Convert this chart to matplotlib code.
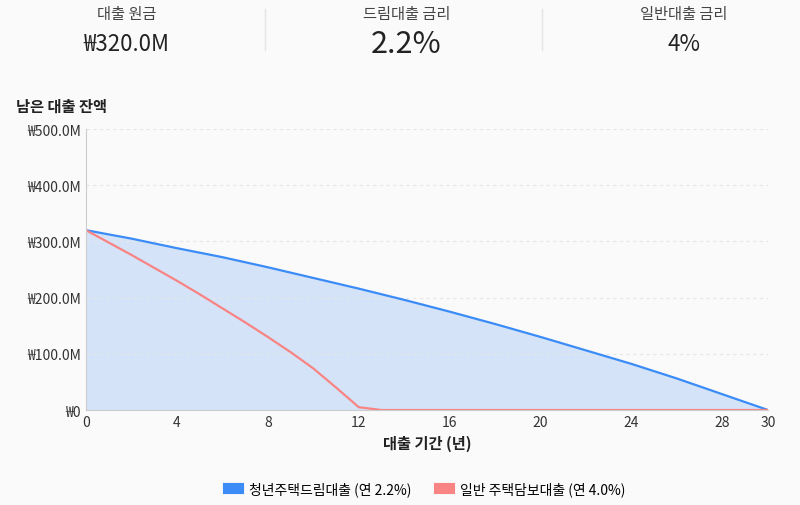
import matplotlib.pyplot as plt
from matplotlib.ticker import FuncFormatter

plt.rcParams['font.family'] = ['Noto Sans CJK KR', 'DejaVu Sans']

years_dream = [0, 2, 4, 6, 8, 10, 12, 14, 16, 18, 20, 22, 24, 26, 28, 30]
bal_dream = [320, 305, 288, 272, 254, 235, 216, 196, 175, 153, 130, 106, 82, 56, 28, 0]
years_normal = [0, 1, 2, 3, 4, 5, 6, 7, 8, 9, 10, 11, 12, 13, 20, 30]
bal_normal = [320, 298, 276, 253, 230, 206, 181, 156, 130, 103, 74, 40, 5, 0, 0, 0]

bg = '#fafafa'
blue = '#3b8cf7'
red = '#f88484'

fig = plt.figure(figsize=(8, 5.06), dpi=100, facecolor=bg)

# header stats
for x, lab, val, size in [(0.158, '대출 원금', '₩320.0M', 16), (0.508, '드림대출 금리', '2.2%', 22), (0.855, '일반대출 금리', '4%', 16)]:
    fig.text(x, 0.972, lab, ha='center', va='center', fontsize=11, color='#444444')
    fig.text(x, 0.912, val, ha='center', va='center', fontsize=size, color='#222222')
for x in [0.331, 0.678]:
    fig.add_artist(plt.Line2D([x, x], [0.9, 0.98], color='#e4e4e4', lw=1))
fig.text(0.02, 0.79, '남은 대출 잔액', fontsize=11, fontweight='bold', color='#222222', va='center')

ax = fig.add_axes([0.1075, 0.1877, 0.8525, 0.5553])
ax.set_facecolor(bg)
ax.fill_between(years_dream, bal_dream, color='#d4e3f8')
ax.plot(years_dream, bal_dream, color=blue, lw=1.6, label='청년주택드림대출 (연 2.2%)')
ax.plot(years_normal, bal_normal, color=red, lw=1.6, label='일반 주택담보대출 (연 4.0%)')
ax.set_xlim(0, 30)
ax.set_ylim(0, 500)
ax.set_xticks([0, 4, 8, 12, 16, 20, 24, 28, 30])
ax.set_yticks([0, 100, 200, 300, 400, 500])
ax.yaxis.set_major_formatter(FuncFormatter(lambda v, p: '₩0' if v == 0 else f'₩{v:.1f}M'))
ax.grid(axis='y', color='#e6e6e6', ls=(0, (3, 3)), lw=0.8)
for s in ['top', 'right']:
    ax.spines[s].set_visible(False)
for s in ['left', 'bottom']:
    ax.spines[s].set_color('#cccccc')
ax.tick_params(colors='#333333', labelsize=10, length=0)
ax.set_xlabel('대출 기간 (년)', fontsize=11, fontweight='bold', color='#222222', labelpad=4)
leg = ax.legend(loc='upper center', bbox_to_anchor=(0.5, -0.21), ncol=2, frameon=False,
                fontsize=10, handlelength=0.7, handleheight=0.7, columnspacing=2)
for h in leg.legend_handles:
    h.set_linewidth(8)

fig.savefig('out.png', dpi=100, facecolor=bg)
